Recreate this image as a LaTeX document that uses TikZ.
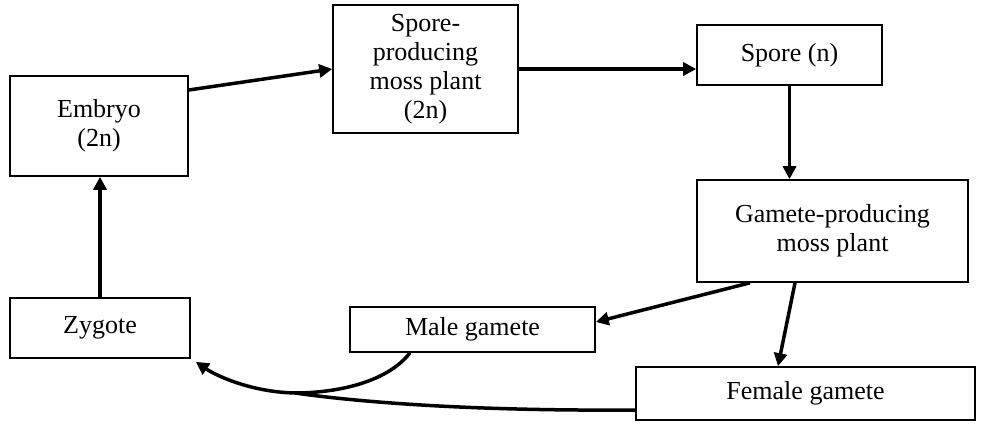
\documentclass[tikz,border=0pt]{standalone}
\usepackage{fontspec}
\setmainfont{Liberation Serif}
\usetikzlibrary{arrows.meta, positioning}
\tikzset{
  box/.style = {rectangle, draw=black, line width=1.6pt, align=center, font=\fontsize{26}{29}\selectfont, inner sep=0pt},
  arr/.style = {line width=3.5pt, -{Triangle[length=13pt,width=13pt]}},
  link/.style = {line width=3.5pt}
}

\begin{document}
\begin{tikzpicture}[x=1pt, y=-1pt]
\useasboundingbox (0,0) rectangle (1001,427);

% Top row
\node[box, minimum width=178pt, minimum height=100pt] (emb) at (99,126) {Embryo\\(2n)};
\node[box, minimum width=185pt, minimum height=128pt] (spph) at (425.5,69) {Spore-\\producing\\moss plant\\(2n)};
\node[box, minimum width=185pt, minimum height=60pt] (spn) at (789.5,55) {Spore (n)};

% Right side
\node[box, minimum width=271pt, minimum height=102pt] (gaph) at (832.5,231) {Gamete-producing\\moss plant};

% Bottom row
\node[box, minimum width=245pt, minimum height=45pt] (mgam) at (472.5,329.5) {Male gamete};
\node[box, minimum width=339pt, minimum height=53pt] (fgam) at (805.5,393.5) {Female gamete};
\node[box, minimum width=180pt, minimum height=60pt] (zyg) at (100,328) {Zygote};

% ----- ARROWS -----
% Embryo to spore-producing plant
\draw[arr] ([yshift=36pt]emb.east) -- (spph.west);
% across to the spore
\coordinate (a2) at (spph.east);
\draw[arr] (a2) -- (a2 -| spn.west);
% down to the gamete-producing plant
\draw[arr] (spn.south) -- (spn.south |- gaph.north);
% gametes
\draw[arr] ([xshift=-82.5pt]gaph.south) -- ([yshift=7.5pt]mgam.east);
\draw[arr] ([xshift=-37.5pt]gaph.south) -- ([xshift=-27.5pt]fgam.north);
% Zygote up to embryo
\draw[arr] (zyg.north) -- (zyg.north |- emb.south);

% Fertilisation: both gametes join into the zygote
\coordinate (jn) at (295,393);
\draw[arr] ([xshift=-62.5pt]mgam.south) .. controls (385,385) and (330,393) .. (jn)
  .. controls (250,392) and (215,375) .. ([shift={(5pt,-3pt)}]zyg.south east);
\draw[link] ([yshift=-16.5pt]fgam.west) .. controls (500,411) and (380,405) .. (jn);

\end{tikzpicture}
\end{document}
